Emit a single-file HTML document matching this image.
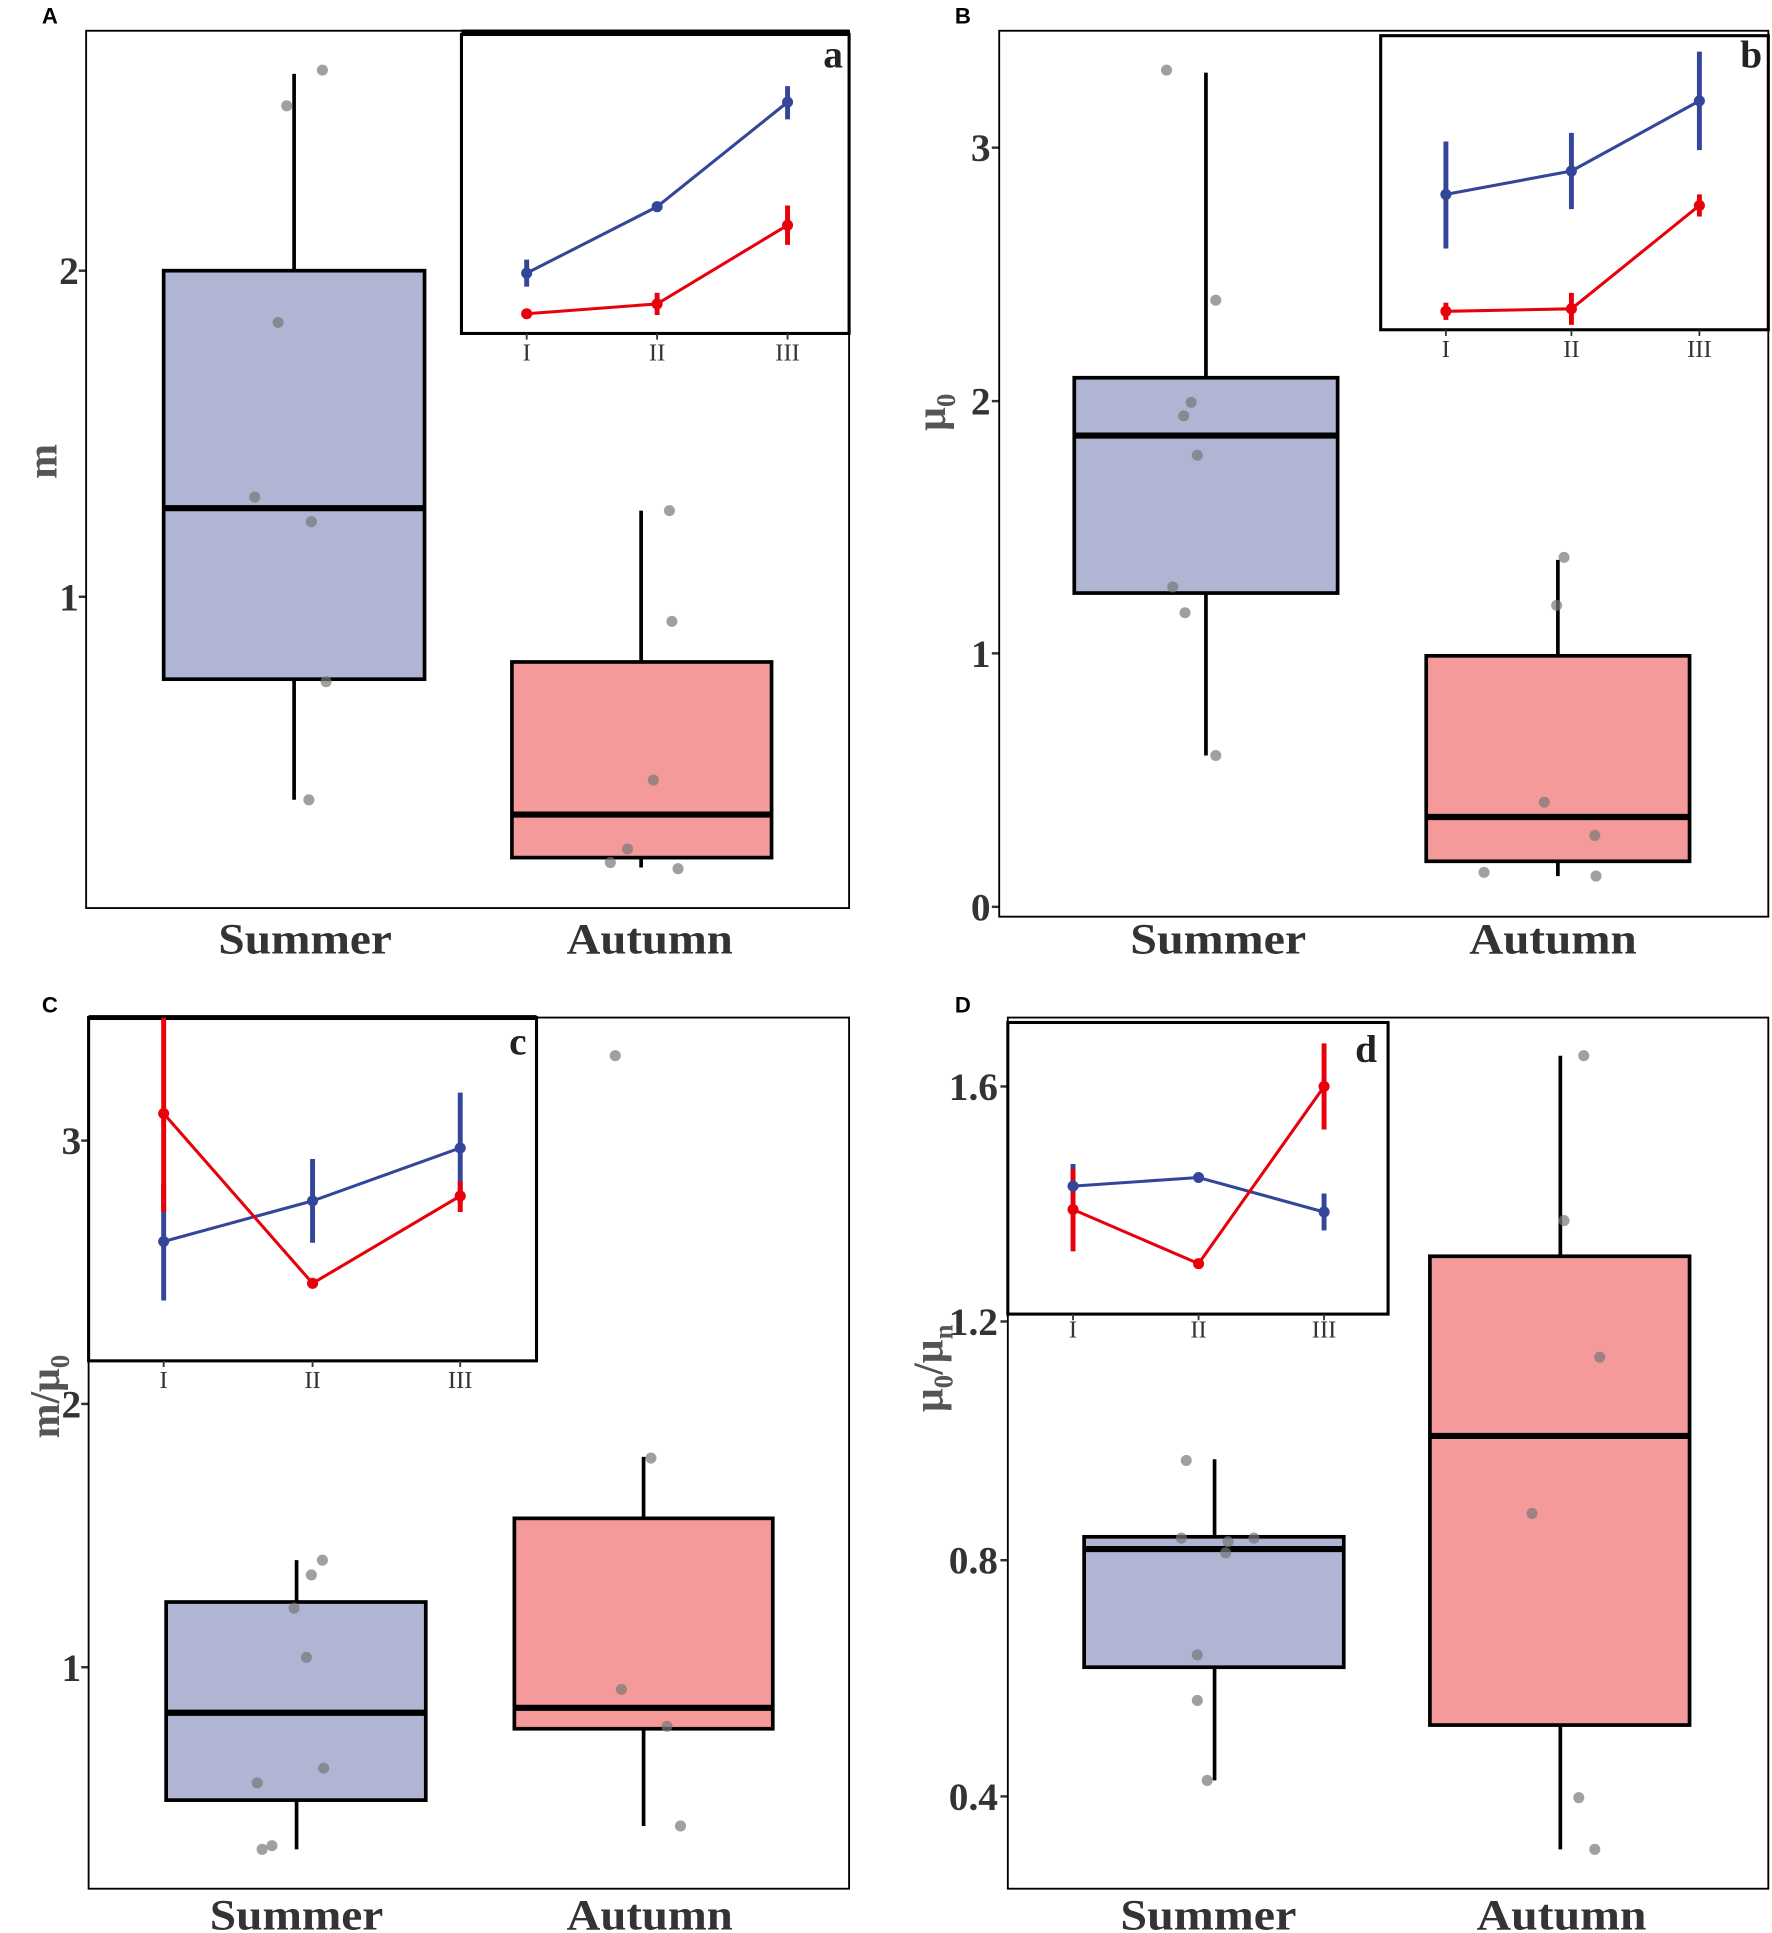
<!DOCTYPE html>
<html><head><meta charset="utf-8"><style>html,body{margin:0;padding:0;background:#fff}svg{display:block}</style></head>
<body>
<svg width="1772" height="1933" viewBox="0 0 1440 1571" preserveAspectRatio="none" xmlns="http://www.w3.org/2000/svg" font-family="Liberation Serif, serif">
<g font-family="Liberation Sans, sans-serif" font-weight="bold" font-size="18" fill="#000">
<text x="34" y="19">A</text><text x="776" y="19">B</text><text x="34" y="823">C</text><text x="776" y="823">D</text>
</g>
<g font-weight="bold" fill="#333" font-size="35" text-anchor="middle" lengthAdjust="spacingAndGlyphs">
<text x="248" y="775" textLength="141" lengthAdjust="spacingAndGlyphs">Summer</text><text x="528" y="775" textLength="135" lengthAdjust="spacingAndGlyphs">Autumn</text>
<text x="990" y="775" textLength="143" lengthAdjust="spacingAndGlyphs">Summer</text><text x="1262" y="775" textLength="136" lengthAdjust="spacingAndGlyphs">Autumn</text>
<text x="241" y="1568" textLength="141" lengthAdjust="spacingAndGlyphs">Summer</text><text x="528" y="1568" textLength="135" lengthAdjust="spacingAndGlyphs">Autumn</text>
<text x="982" y="1568" textLength="143" lengthAdjust="spacingAndGlyphs">Summer</text><text x="1269" y="1568" textLength="138" lengthAdjust="spacingAndGlyphs">Autumn</text>
</g>
<g font-weight="bold" fill="#333" font-size="32" text-anchor="end">
<text x="64" y="231">2</text><text x="64" y="496">1</text>
<text x="805" y="131">3</text><text x="805" y="337">2</text><text x="805" y="542">1</text><text x="805" y="748">0</text>
<text x="66" y="938">3</text><text x="66" y="1152">2</text><text x="66" y="1366">1</text>
<text x="811" y="894">1.6</text><text x="811" y="1085">1.2</text><text x="811" y="1279">0.8</text><text x="811" y="1471">0.4</text>
</g>
<g stroke="#333" stroke-width="2">
<line x1="64" y1="220" x2="70" y2="220"/><line x1="64" y1="485" x2="70" y2="485"/>
<line x1="806" y1="120" x2="812" y2="120"/><line x1="806" y1="326" x2="812" y2="326"/><line x1="806" y1="531" x2="812" y2="531"/><line x1="806" y1="737" x2="812" y2="737"/>
<line x1="66" y1="927" x2="72" y2="927"/><line x1="66" y1="1141" x2="72" y2="1141"/><line x1="66" y1="1355" x2="72" y2="1355"/>
<line x1="813" y1="883" x2="819" y2="883"/><line x1="813" y1="1074" x2="819" y2="1074"/><line x1="813" y1="1268" x2="819" y2="1268"/><line x1="813" y1="1460" x2="819" y2="1460"/>
</g>
<g font-weight="bold" fill="#555" font-size="34" text-anchor="middle">
<text transform="translate(46,375) rotate(-90)">m</text>
<text transform="translate(768,335) rotate(-90)">μ<tspan font-size="22" dy="8">0</tspan></text>
<text transform="translate(48,1135) rotate(-90)">m/μ<tspan font-size="22" dy="8">0</tspan></text>
<text transform="translate(766,1112) rotate(-90)">μ<tspan font-size="22" dy="8">0</tspan><tspan dy="-8">/μ</tspan><tspan font-size="22" dy="8">n</tspan></text>
</g>
<g fill="none" stroke="#000" stroke-width="1.5">
<rect x="70" y="25" width="620" height="713"/>
<rect x="812" y="25" width="625" height="720"/>
<rect x="72" y="827" width="618" height="708"/>
<rect x="819" y="827" width="618" height="708"/>
</g>
<g stroke="#000" stroke-width="3">
<line x1="239" y1="60" x2="239" y2="650"/><rect x="133" y="220" width="212" height="332" fill="#b0b5d4"/><line x1="133" y1="413" x2="345" y2="413" stroke-width="5"/>
<line x1="521" y1="415" x2="521" y2="705"/><rect x="416" y="538" width="211" height="159" fill="#f59a9a"/><line x1="416" y1="662" x2="627" y2="662" stroke-width="5"/>
<line x1="980" y1="59" x2="980" y2="614"/><rect x="873" y="307" width="214" height="175" fill="#b0b5d4"/><line x1="873" y1="354" x2="1087" y2="354" stroke-width="5"/>
<line x1="1266" y1="455" x2="1266" y2="712"/><rect x="1159" y="533" width="214" height="167" fill="#f59a9a"/><line x1="1159" y1="664" x2="1373" y2="664" stroke-width="5"/>
<line x1="241" y1="1268" x2="241" y2="1503"/><rect x="135" y="1302" width="211" height="161" fill="#b0b5d4"/><line x1="135" y1="1392" x2="346" y2="1392" stroke-width="5"/>
<line x1="523" y1="1184" x2="523" y2="1484"/><rect x="418" y="1234" width="210" height="171" fill="#f59a9a"/><line x1="418" y1="1388" x2="628" y2="1388" stroke-width="5"/>
<line x1="987" y1="1186" x2="987" y2="1447"/><rect x="881" y="1249" width="211" height="106" fill="#b0b5d4"/><line x1="881" y1="1259" x2="1092" y2="1259" stroke-width="5"/>
<line x1="1268" y1="858" x2="1268" y2="1503"/><rect x="1162" y="1021" width="211" height="381" fill="#f59a9a"/><line x1="1162" y1="1167" x2="1373" y2="1167" stroke-width="5"/>
</g>
<g fill="#777" fill-opacity="0.7">
<circle cx="262" cy="57" r="4.5"/><circle cx="233" cy="86" r="4.5"/><circle cx="226" cy="262" r="4.5"/><circle cx="207" cy="404" r="4.5"/><circle cx="253" cy="424" r="4.5"/><circle cx="265" cy="554" r="4.5"/><circle cx="251" cy="650" r="4.5"/>
<circle cx="544" cy="415" r="4.5"/><circle cx="546" cy="505" r="4.5"/><circle cx="531" cy="634" r="4.5"/><circle cx="510" cy="690" r="4.5"/><circle cx="496" cy="701" r="4.5"/><circle cx="551" cy="706" r="4.5"/>
<circle cx="948" cy="57" r="4.5"/><circle cx="988" cy="244" r="4.5"/><circle cx="968" cy="327" r="4.5"/><circle cx="962" cy="338" r="4.5"/><circle cx="973" cy="370" r="4.5"/><circle cx="953" cy="477" r="4.5"/><circle cx="963" cy="498" r="4.5"/><circle cx="988" cy="614" r="4.5"/>
<circle cx="1271" cy="453" r="4.5"/><circle cx="1265" cy="492" r="4.5"/><circle cx="1255" cy="652" r="4.5"/><circle cx="1296" cy="679" r="4.5"/><circle cx="1206" cy="709" r="4.5"/><circle cx="1297" cy="712" r="4.5"/>
<circle cx="262" cy="1268" r="4.5"/><circle cx="253" cy="1280" r="4.5"/><circle cx="239" cy="1307" r="4.5"/><circle cx="249" cy="1347" r="4.5"/><circle cx="263" cy="1437" r="4.5"/><circle cx="209" cy="1449" r="4.5"/><circle cx="221" cy="1500" r="4.5"/><circle cx="213" cy="1503" r="4.5"/>
<circle cx="500" cy="858" r="4.5"/><circle cx="529" cy="1185" r="4.5"/><circle cx="505" cy="1373" r="4.5"/><circle cx="542" cy="1403" r="4.5"/><circle cx="553" cy="1484" r="4.5"/>
<circle cx="964" cy="1187" r="4.5"/><circle cx="960" cy="1250" r="4.5"/><circle cx="998" cy="1253" r="4.5"/><circle cx="1019" cy="1250" r="4.5"/><circle cx="996" cy="1262" r="4.5"/><circle cx="973" cy="1345" r="4.5"/><circle cx="973" cy="1382" r="4.5"/><circle cx="981" cy="1447" r="4.5"/>
<circle cx="1287" cy="858" r="4.5"/><circle cx="1271" cy="992" r="4.5"/><circle cx="1300" cy="1103" r="4.5"/><circle cx="1245" cy="1230" r="4.5"/><circle cx="1283" cy="1461" r="4.5"/><circle cx="1296" cy="1503" r="4.5"/>
</g>
<g fill="#fff" stroke="#000" stroke-width="2.5">
<rect x="375" y="28" width="315" height="243"/>
<rect x="1122" y="29" width="315" height="239"/>
<rect x="72" y="827" width="364" height="279"/>
<rect x="819" y="831" width="309" height="237"/>
</g>
<rect x="375" y="24" width="315" height="4" fill="#000"/>
<rect x="72" y="825" width="364" height="4" fill="#000"/>
<g font-weight="bold" font-size="32" fill="#222" text-anchor="end">
<text x="685" y="55">a</text><text x="1432" y="55">b</text><text x="428" y="857">c</text><text x="1119" y="863">d</text>
</g>
<g font-size="20" fill="#333" text-anchor="middle">
<text x="428" y="293">I</text><text x="534" y="293">II</text><text x="640" y="293">III</text>
<text x="1175" y="290">I</text><text x="1277" y="290">II</text><text x="1381" y="290">III</text>
<text x="133" y="1128">I</text><text x="254" y="1128">II</text><text x="374" y="1128">III</text>
<text x="872" y="1087">I</text><text x="974" y="1087">II</text><text x="1076" y="1087">III</text>
</g>
<g stroke="#333" stroke-width="1.5">
<line x1="428" y1="271" x2="428" y2="276"/><line x1="534" y1="271" x2="534" y2="276"/><line x1="640" y1="271" x2="640" y2="276"/>
<line x1="1175" y1="268" x2="1175" y2="273"/><line x1="1277" y1="268" x2="1277" y2="273"/><line x1="1381" y1="268" x2="1381" y2="273"/>
<line x1="133" y1="1106" x2="133" y2="1111"/><line x1="254" y1="1106" x2="254" y2="1111"/><line x1="374" y1="1106" x2="374" y2="1111"/>
<line x1="872" y1="1068" x2="872" y2="1073"/><line x1="974" y1="1068" x2="974" y2="1073"/><line x1="1076" y1="1068" x2="1076" y2="1073"/>
</g>
<g fill="none" stroke-width="2.5">
<polyline stroke="#34469a" points="428,222 534,168 640,83"/>
<polyline stroke="#e8000a" points="428,255 534,247 640,183"/>
<polyline stroke="#34469a" points="1175,158 1277,139 1381,82"/>
<polyline stroke="#e8000a" points="1175,253 1277,251 1381,167"/>
<polyline stroke="#34469a" points="133,1009 254,976 374,933"/>
<polyline stroke="#e8000a" points="133,905 254,1043 374,972"/>
<polyline stroke="#34469a" points="872,964 974,957 1076,985"/>
<polyline stroke="#e8000a" points="872,983 974,1027 1076,883"/>
</g>
<g stroke-width="4">
<g stroke="#34469a">
<line x1="428" y1="211" x2="428" y2="233"/><line x1="534" y1="164" x2="534" y2="172"/><line x1="640" y1="70" x2="640" y2="97"/>
<line x1="1175" y1="115" x2="1175" y2="202"/><line x1="1277" y1="108" x2="1277" y2="170"/><line x1="1381" y1="42" x2="1381" y2="122"/>
<line x1="133" y1="962" x2="133" y2="1057"/><line x1="254" y1="942" x2="254" y2="1010"/><line x1="374" y1="888" x2="374" y2="978"/>
<line x1="872" y1="946" x2="872" y2="982"/><line x1="1076" y1="970" x2="1076" y2="1000"/>
</g>
<g stroke="#e8000a">
<line x1="534" y1="238" x2="534" y2="256"/><line x1="640" y1="167" x2="640" y2="199"/>
<line x1="1175" y1="246" x2="1175" y2="260"/><line x1="1277" y1="238" x2="1277" y2="264"/><line x1="1381" y1="158" x2="1381" y2="176"/>
<line x1="133" y1="827" x2="133" y2="985"/><line x1="374" y1="960" x2="374" y2="985"/>
<line x1="872" y1="950" x2="872" y2="1017"/><line x1="1076" y1="848" x2="1076" y2="918"/>
</g>
</g>
<g fill="#34469a">
<circle cx="428" cy="222" r="4.5"/><circle cx="534" cy="168" r="4.5"/><circle cx="640" cy="83" r="4.5"/>
<circle cx="1175" cy="158" r="4.5"/><circle cx="1277" cy="139" r="4.5"/><circle cx="1381" cy="82" r="4.5"/>
<circle cx="133" cy="1009" r="4.5"/><circle cx="254" cy="976" r="4.5"/><circle cx="374" cy="933" r="4.5"/>
<circle cx="872" cy="964" r="4.5"/><circle cx="974" cy="957" r="4.5"/><circle cx="1076" cy="985" r="4.5"/>
</g>
<g fill="#e8000a">
<circle cx="428" cy="255" r="4.5"/><circle cx="534" cy="247" r="4.5"/><circle cx="640" cy="183" r="4.5"/>
<circle cx="1175" cy="253" r="4.5"/><circle cx="1277" cy="251" r="4.5"/><circle cx="1381" cy="167" r="4.5"/>
<circle cx="133" cy="905" r="4.5"/><circle cx="254" cy="1043" r="4.5"/><circle cx="374" cy="972" r="4.5"/>
<circle cx="872" cy="983" r="4.5"/><circle cx="974" cy="1027" r="4.5"/><circle cx="1076" cy="883" r="4.5"/>
</g>
</svg>
</body></html>
